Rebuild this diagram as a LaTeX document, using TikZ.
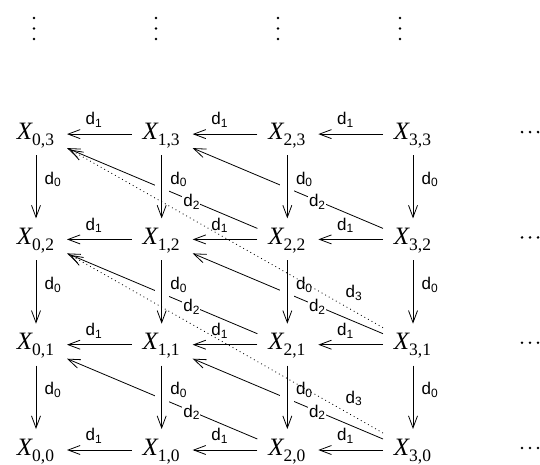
\documentclass[tikz,border=0pt]{standalone}
\usepackage{fontspec}
\setmainfont{Liberation Serif}
\setsansfont{Liberation Sans}
\usetikzlibrary{arrows.meta,calc}
\newcommand\Xs[1]{{\fontsize{25}{27}\selectfont\itshape X}\raisebox{-6pt}{\fontsize{17.5}{17.5}\selectfont #1}}
\newcommand\dl[1]{{\sffamily\fontsize{17}{17}\selectfont d\raisebox{-2.6pt}{\fontsize{12}{12}\selectfont #1}}}
\begin{document}
\begin{tikzpicture}[x=1pt,y=-1pt,
  xnode/.style={anchor=base,inner sep=0pt},
  lab/.style={anchor=base west,inner sep=0pt},
  cutlab/.style={anchor=base west,inner sep=1pt,fill=white},
  arr/.style={line width=0.8pt,-{Straight Barb[length=12pt,width=9pt,line width=0.8pt]}},
  dotarr/.style={arr,dash pattern=on 0.9pt off 3.2pt},
  gap/.style={draw=white,line width=14pt},
  dotmark/.style={fill=black}]
\useasboundingbox (0,0) rectangle (540,464);
% objects
\foreach \i in {0,1,2,3}{
  \foreach \j in {0,1,2,3}{
    \node[xnode] (x\i\j) at ({35.5+125.67*\i},{455-105.3*\j}) {\Xs{\i,\j}};
  }
}
% vertical dots on top
\foreach \i in {0,1,2,3}{
  \foreach \y in {18,28.5,39}{
    \fill[dotmark] ({34+122*\i},\y) circle (1.4);
  }
}
% horizontal dots on the right
\foreach \j in {0,1,2,3}{
  \foreach \x in {522,530,538}{
    \fill[dotmark] (\x,{448-105.3*\j}) circle (1.4);
  }
}
% d_1 arrows
\foreach \i/\k in {0/1,1/2,2/3}{
  \foreach \j in {0,1,2,3}{
    \draw[arr] ($(x\k\j.base)+(-29.5,-5)$) -- ($(x\i\j.base)+(31.5,-5)$);
    \node[lab] (h\k\i\j) at ($(x\i\j.base)+(50,-14.3)$) {\dl{1}};
  }
}
% d_2 diagonals
\foreach \i/\k in {0/2,1/3}{
  \foreach \j/\l in {0/1,1/2,2/3}{
    \draw[arr] ($(x\k\j.base)+(-29.5,-16)$) -- ($(x\i\l.base)+(31.5,9)$);
  }
}
% gaps where the diagonals pass under the vertical arrows
\foreach \i in {1,2}{
  \foreach \j/\l in {3/2,2/1,1/0}{
    \draw[gap] ($(x\i\j.base)+(0.5,25)$) -- ($(x\i\l.base)+(0.5,-35)$);
  }
}
% d_0 arrows
\foreach \i in {0,1,2,3}{
  \foreach \j/\l in {3/2,2/1,1/0}{
    \draw[arr] ($(x\i\j.base)+(0.5,16)$) -- ($(x\i\l.base)+(0.5,-26)$);
    \node[lab] (v\i\j\l) at ($(x\i\j.base)+(9,45)$) {\dl{0}};
  }
}
% d_2 labels
\foreach \i/\k in {0/2,1/3}{
  \foreach \j/\l in {0/1,1/2,2/3}{
    \node[cutlab] (g\k\j\i\l) at ($(x\k\j.base)+(-104.7,-38)$) {\dl{2}};
  }
}
% d_3 dotted diagonals
\foreach \j/\l in {1/3,0/2}{
  \draw[dotarr] ($(x3\j.base)+(-29.5,-22)$) -- ($(x0\l.base)+(34.5,10.5)$);
  \node[lab] (t3\j0\l) at ($(x3\j.base)+(-67,-52)$) {\dl{3}};
}
\end{tikzpicture}
\end{document}
